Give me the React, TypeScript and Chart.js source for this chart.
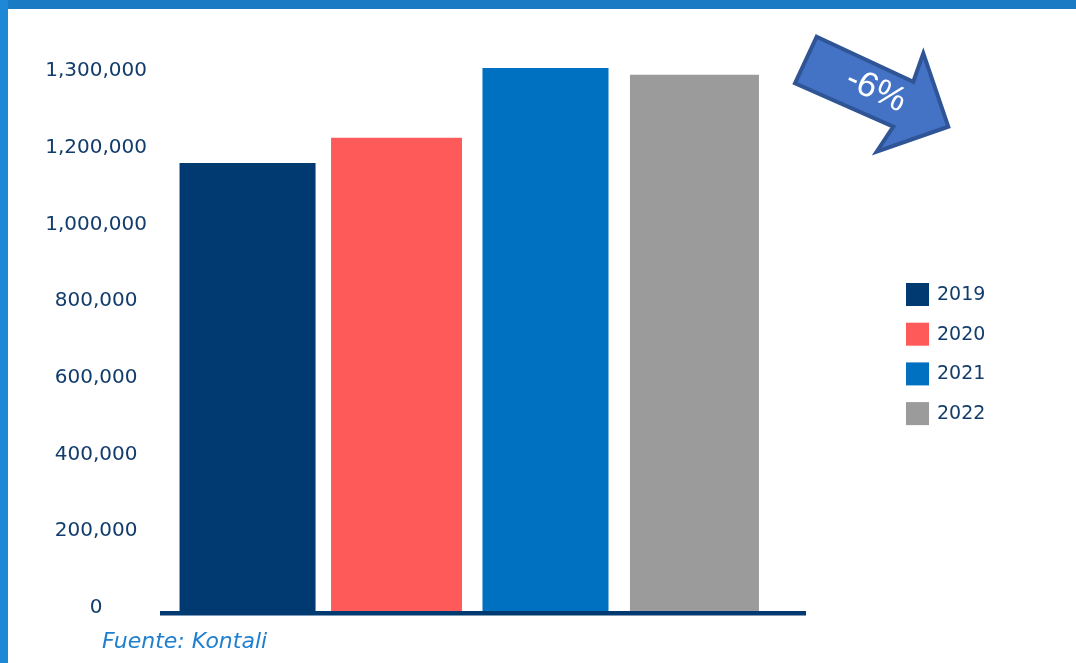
import React, { useEffect, useRef } from 'react';
import { Chart, registerables, LinearScale } from 'chart.js';

// ---- data ----
const CATEGORIES = [''];
const SERIES_LABELS = ['2019', '2020', '2021', '2022'];
const SERIES_VALUES = [1168000, 1217000, 1308000, 1299000];
const TICK_VALUES = [0, 200000, 400000, 600000, 800000, 1000000, 1200000, 1300000];
const CHANGE_LABEL = '-6%';
const SOURCE_TEXT = 'Fuente: Kontali';

// ---- styles ----
const SERIES_COLORS = ['#003a70', '#ff5a5a', '#0070c0', '#9b9b9b'];
const SERIES_BAR_PCT = [0.913, 0.879, 0.846, 0.866];
const TEXT_COLOR = '#123c6b';
const Y_UNIT_MAX = 7.3;

function toUnit(v: number): number {
  for (let i = 1; i < TICK_VALUES.length; i++) {
    if (v <= TICK_VALUES[i]) {
      const a = TICK_VALUES[i - 1];
      const b = TICK_VALUES[i];
      return i - 1 + (v - a) / (b - a);
    }
  }
  const n = TICK_VALUES.length;
  const a = TICK_VALUES[n - 2];
  const b = TICK_VALUES[n - 1];
  return n - 1 + (v - b) / (b - a);
}

function fromUnit(u: number): number {
  const n = TICK_VALUES.length;
  const i = Math.max(0, Math.min(n - 2, Math.floor(u)));
  const a = TICK_VALUES[i];
  const b = TICK_VALUES[i + 1];
  return a + (u - i) * (b - a);
}

// A value axis whose ticks are equally spaced (broken axis)
class BrokenScale extends LinearScale {
  static id = 'broken';
  static defaults = {};
  determineDataLimits() {
    this.min = 0;
    this.max = TICK_VALUES[TICK_VALUES.length - 1];
  }
  buildTicks() {
    return TICK_VALUES.map((value) => ({ value }));
  }
  getPixelForValue(value: number) {
    return this.getPixelForDecimal(toUnit(value) / Y_UNIT_MAX);
  }
  getValueForPixel(pixel: number) {
    return fromUnit(this.getDecimalForPixel(pixel) * Y_UNIT_MAX);
  }
}

Chart.register(...registerables, BrokenScale);

const baselinePlugin = {
  id: 'baseline',
  afterDatasetsDraw(chart: any) {
    const { ctx, chartArea } = chart;
    ctx.save();
    ctx.fillStyle = '#003a70';
    ctx.fillRect(chartArea.left, chartArea.bottom, chartArea.right - chartArea.left + 24, 4.5);
    ctx.restore();
  },
};

const sideLegendPlugin = {
  id: 'sideLegend',
  afterDraw(chart: any) {
    const { ctx } = chart;
    ctx.save();
    chart.data.datasets.forEach((ds: any, i: number) => {
      const top = 283 + i * 39.7;
      ctx.fillStyle = ds.backgroundColor;
      ctx.fillRect(906, top, 23, 23);
      ctx.fillStyle = TEXT_COLOR;
      ctx.font = '19px "DejaVu Sans"';
      ctx.textAlign = 'left';
      ctx.textBaseline = 'middle';
      ctx.fillText(ds.label, 937, top + 12);
    });
    ctx.restore();
  },
};

export default function App() {
  const canvasRef = useRef<HTMLCanvasElement | null>(null);

  useEffect(() => {
    if (!canvasRef.current) return;
    Chart.defaults.font.family = '"DejaVu Sans", sans-serif';
    const chart = new Chart(canvasRef.current, {
      type: 'bar',
      data: {
        labels: CATEGORIES,
        datasets: SERIES_LABELS.map((label, i) => ({
          label,
          data: [SERIES_VALUES[i]],
          backgroundColor: SERIES_COLORS[i],
          borderWidth: 0,
          barPercentage: SERIES_BAR_PCT[i],
          categoryPercentage: 0.958,
        })),
      },
      options: {
        animation: false,
        responsive: false,
        maintainAspectRatio: false,
        layout: { padding: { left: 0, right: 294, top: 51, bottom: 52 } },
        plugins: {
          legend: { display: false },
          tooltip: { enabled: false },
        },
        scales: {
          x: { display: false },
          y: {
            type: 'broken' as any,
            grid: { display: false },
            border: { display: false },
            afterFit: (scale: any) => {
              scale.width = 160;
            },
            ticks: {
              padding: 5,
              crossAlign: 'center',
              labelOffset: -3,
              color: TEXT_COLOR,
              font: { size: 20 },
              autoSkip: false,
              callback: (v: any) => Number(v).toLocaleString('en-US'),
            },
          } as any,
        },
      },
      plugins: [baselinePlugin, sideLegendPlugin],
    });
    return () => chart.destroy();
  }, []);

  return (
    <div style={{ position: 'fixed', left: 0, top: 0, width: 1076, height: 663, background: '#fff', overflow: 'hidden' }}>
      <canvas ref={canvasRef} width={1076} height={663} style={{ position: 'absolute', left: 0, top: 0, width: 1076, height: 663 }} />
      <div style={{ position: 'absolute', left: 0, top: 0, width: 1076, height: 9, background: '#1a7ac4' }} />
      <div style={{ position: 'absolute', left: 0, top: 0, width: 8, height: 663, background: '#1f88d6' }} />
      <svg style={{ position: 'absolute', left: 0, top: 0 }} width={1076} height={663}>
        <polygon
          points="816.7,36.7 913.3,81.7 923.3,53.3 948.3,126.7 876.7,151.7 893.3,126.7 795,83.3"
          fill="#4472c4"
          stroke="#2f5597"
          strokeWidth={4}
          strokeLinejoin="miter"
        />
        <text
          x={877}
          y={88}
          fill="#ffffff"
          fontFamily="'Liberation Sans', Arial, sans-serif"
          fontSize={35}
          textAnchor="middle"
          dominantBaseline="central"
          transform="rotate(25 877 88)"
        >
          {CHANGE_LABEL}
        </text>
      </svg>
      <div
        style={{
          position: 'absolute',
          left: 102,
          top: 627,
          fontFamily: '"DejaVu Sans", sans-serif',
          fontStyle: 'italic',
          fontSize: 22,
          color: '#1f7fcf',
          lineHeight: '28px',
          whiteSpace: 'nowrap',
        }}
      >
        {SOURCE_TEXT}
      </div>
    </div>
  );
}
